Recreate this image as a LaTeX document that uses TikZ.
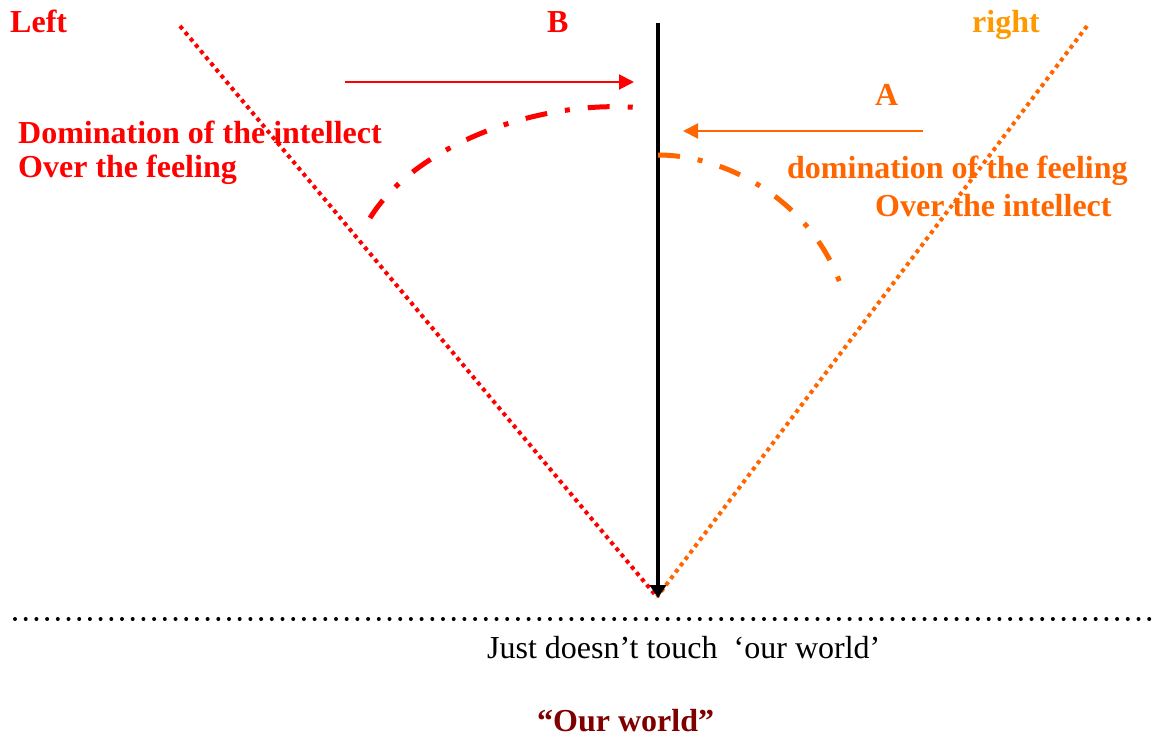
\documentclass[tikz,border=0pt]{standalone}
\usepackage{fontspec}
\setmainfont{Liberation Serif}
\usetikzlibrary{arrows.meta}
\definecolor{redL}{RGB}{255,0,0}
\definecolor{orangeR}{RGB}{255,102,0}
\definecolor{orangeT}{RGB}{255,153,0}
\definecolor{worldred}{RGB}{128,0,0}

\begin{document}
\begin{tikzpicture}[x=1pt,y=-1pt,
  lbl/.style={font=\fontsize{32}{38}\selectfont\bfseries, inner sep=0pt, anchor=base west},
  sideline/.style={line width=4pt, dash pattern=on 4pt off 4pt},
  swing/.style={line width=5pt, dash pattern=on 22pt off 18pt on 5pt off 18pt},
  push/.style={line width=2pt, -{Triangle[length=15pt,width=15pt]}}]
\useasboundingbox (0,0) rectangle (1160,736);
% texts
\node[lbl, redL] (left) at (10,32) {Left};
\node[lbl, redL] (b) at (547,32) {B};
\node[lbl, orangeT] (right) at (972,32) {right};
\node[lbl, orangeR] (a) at (875,105) {A};
\node[lbl, redL] (intel1) at (18,143) {Domination of the intellect};
\node[lbl, redL] (intel2) at (18,177) {Over the feeling};
\node[lbl, orangeR] (feel1) at (787,178) {domination of the feeling};
\node[lbl, orangeR] (feel2) at (875,216) {Over the intellect};
\node[lbl, font=\fontsize{32}{38}\selectfont, black] (touch) at (487,658) {Just doesn’t touch\ \ ‘our world’};
\node[lbl, worldred] (ours) at (537,731) {“Our world”};
% the V and the axis
\coordinate (apex) at (657,597);
\coordinate (lefttop) at (180,26);
\coordinate (righttop) at (1087,26);
\coordinate (axistop) at (658,23);
\coordinate (axisend) at (658,598);
\draw[redL, sideline] (lefttop) -- (apex);
\draw[orangeR, sideline] (righttop) -- (apex);
\draw[line width=4pt, -{Triangle[length=13pt,width=16pt]}] (axistop) -- (axisend);
% ground
\coordinate (groundL) at (15,619);
\coordinate (groundR) at (1158,619);
\draw[line width=4pt, line cap=round, dash pattern=on 0pt off 10.7pt] (groundL) -- (groundR);
% pushes
\coordinate (bfrom) at (345,82);
\coordinate (bto) at (634,82);
\coordinate (afrom) at (923,131);
\coordinate (ato) at (683,131);
\draw[push, redL] (bfrom) -- (bto);
\draw[push, orangeR] (afrom) -- (ato);
% swings
\draw[swing, redL] (370,218) .. controls (415,145) and (540,98) .. (642,108);
\draw[swing, orangeR] (658,155) .. controls (730,155) and (815,205) .. (842,289);
\end{tikzpicture}
\end{document}
